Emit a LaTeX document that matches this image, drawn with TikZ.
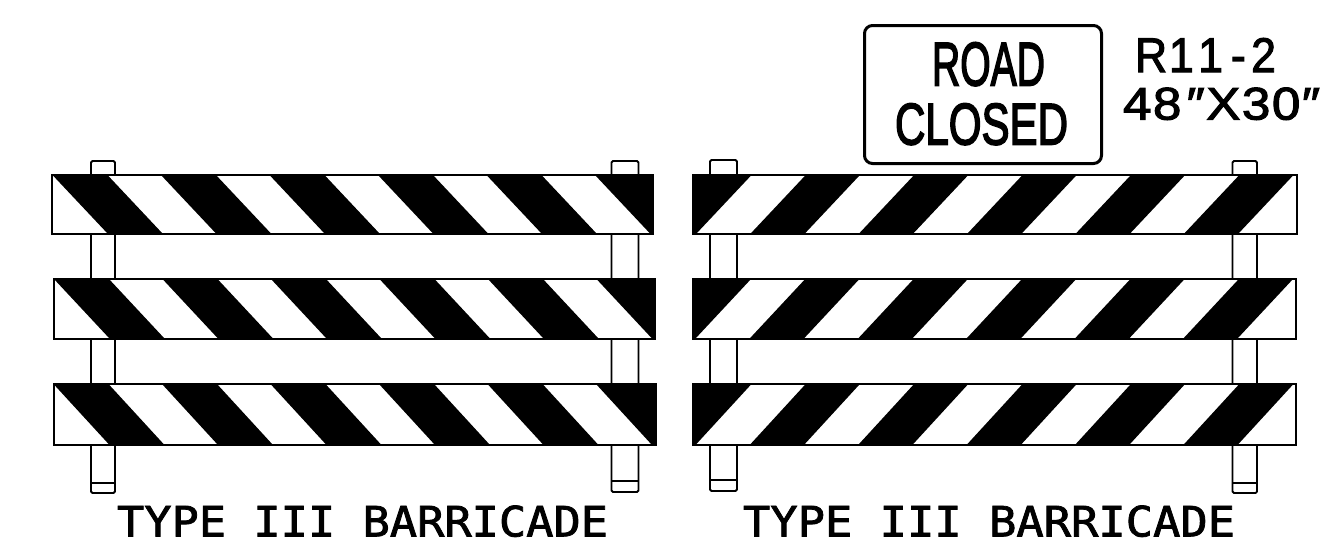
\documentclass[tikz,border=0pt]{standalone}
\usepackage{fontspec}
\usepackage{graphicx}
\setmainfont{Liberation Sans}
\newfontfamily\titlefont[FakeBold=1.8]{DejaVu Sans Mono}
\newfontfamily\signfont[FakeBold=3]{Liberation Sans}
\newfontfamily\codefont[FakeBold=2.2,LetterSpace=8]{Liberation Sans}
\newfontfamily\sizefont[FakeBold=2.2,LetterSpace=3]{Liberation Sans}
\tikzset{
  railbox/.style={draw=black,line width=2pt,fill=white},
  band/.style={fill=black,draw=none},
  postbar/.style={draw=black,line width=1.8pt,fill=white,rounded corners=1.5pt},
  signbox/.style={draw=black,line width=3pt,fill=white,rounded corners=8pt},
  lbl/.style={inner sep=0pt,outer sep=0pt,anchor=south west}
}
% x0 x1 ytop ybot : stripes falling to the right
\newcommand{\fallrail}[4]{%
  \draw[railbox] (#1,#3) rectangle (#2,#4);
  \foreach \k in {0,...,4}{
    \fill[band] ({#1+108.5*\k},#3) -- ({#1+108.5*\k+55},#3) -- ({#1+108.5*\k+111},#4) -- ({#1+108.5*\k+56},#4) -- cycle;
  }
  \fill[band] ({#1+542.5},#3) -- (#2,#3) -- (#2,#4) -- ({#1+598.5},#4) -- cycle;
}
% x0 x1 ytop ybot : stripes rising to the right
\newcommand{\riserail}[4]{%
  \draw[railbox] (#1,#3) rectangle (#2,#4);
  \fill[band] (#1,#3) -- ({#1+59},#3) -- ({#1+3},#4) -- (#1,#4) -- cycle;
  \foreach \k in {1,...,5}{
    \fill[band] ({#1+3+108.4*\k-54.2},#4) -- ({#1+3+108.4*\k},#4) -- ({#1+59+108.4*\k},#3) -- ({#1+59+108.4*\k-54.2},#3) -- cycle;
  }
}
% x0 x1 ytop yline ybot
\newcommand{\postbar}[5]{%
  \draw[postbar] (#1,#3) rectangle (#2,#5);
  \draw[black,line width=1.8pt] (#1,#4) -- (#2,#4);
}
\begin{document}
\begin{tikzpicture}[x=1pt,y=-1pt]
\useasboundingbox (0,0) rectangle (1339,550);
\fill[white] (0,0) rectangle (1339,550);
% posts
\postbar{91}{115}{161}{483}{493}
\postbar{611.5}{638.5}{161}{481}{492}
\postbar{710}{737}{160}{480}{491}
\postbar{1232.5}{1257}{161}{483}{493}
% rails
\fallrail{52}{653}{174.5}{234}
\fallrail{53.5}{655}{278.5}{338.5}
\fallrail{53.5}{656}{384}{445}
\riserail{693}{1297}{174.5}{234}
\riserail{692.5}{1296}{278.5}{338.5}
\riserail{692.5}{1296}{384}{445}
% sign
\node[signbox,minimum width=237pt,minimum height=138pt,anchor=north west,inner sep=0pt] (sign) at (863,24) {};
\node[lbl] (road) at (932,86) {\resizebox{113pt}{43pt}{\signfont ROAD}};
\node[lbl] (closed) at (895,145) {\resizebox{173pt}{41pt}{\signfont CLOSED}};
\node[lbl] (code) at (1135,72) {\resizebox{141pt}{34pt}{\codefont R\kern.04em 1\kern.1em 1\kern.18em -\kern.12em 2}};
\node[lbl] (size) at (1123,120) {\resizebox{197pt}{32pt}{\sizefont 48\kern0.1em″X30″}};
% titles
\node[lbl] (t1) at (117,537) {\resizebox{491pt}{31pt}{\titlefont TYPE III BARRICADE}};
\node[lbl] (t2) at (743,537) {\resizebox{492pt}{31pt}{\titlefont TYPE III BARRICADE}};
\end{tikzpicture}
\end{document}
